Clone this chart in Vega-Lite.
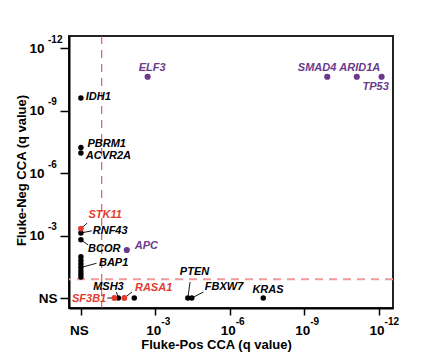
{
  "$schema": "https://vega.github.io/schema/vega-lite/v6.json",
  "width": 324,
  "height": 272,
  "autosize": {"type": "none"},
  "padding": {"left": 69, "top": 36, "right": 35, "bottom": 50},
  "config": {
    "view": {"stroke": "#222", "strokeWidth": 2},
    "font": "Liberation Sans",
    "axis": {
      "grid": false,
      "domainColor": "#000",
      "domainWidth": 2,
      "tickColor": "#000",
      "tickWidth": 1.5,
      "labelFont": "Liberation Sans",
      "labelFontWeight": "bold",
      "labelFontSize": 13.5,
      "labelColor": "#000",
      "titleFont": "Liberation Sans",
      "titleFontWeight": "bold",
      "titleFontSize": 13,
      "titleColor": "#000",
      "labelFlush": false,
      "labelBound": false,
      "labelOverlap": false
    }
  },
  "datasets": {
    "genes": [
      {"gene": "IDH1", "label": "IDH1", "cat": "single", "x": 0, "y": 9.62, "lx": 0.70, "ly": 9.65},
      {"gene": "PBRM1", "label": "PBRM1", "cat": "single", "x": 0, "y": 7.24, "lx": 1.04, "ly": 7.42},
      {"gene": "ACVR2A", "label": "ACVR2A", "cat": "single", "x": 0, "y": 6.97, "lx": 1.11, "ly": 6.81},
      {"gene": "ELF3", "label": "ELF3", "cat": "both", "x": 2.69, "y": 10.64, "lx": 2.87, "ly": 11.04},
      {"gene": "SMAD4", "label": "SMAD4", "cat": "both", "x": 9.93, "y": 10.64, "lx": 9.52, "ly": 11.04},
      {"gene": "ARID1A", "label": "ARID1A", "cat": "both", "x": 11.12, "y": 10.64, "lx": 11.24, "ly": 11.04},
      {"gene": "TP53", "label": "TP53", "cat": "both", "x": 12.12, "y": 10.64, "lx": 11.88, "ly": 10.15},
      {"gene": "RNF43", "label": "RNF43", "cat": "single", "x": 0, "y": 3.13, "lx": 1.18, "ly": 3.23},
      {"gene": "BCOR", "label": "BCOR", "cat": "single", "x": 0, "y": 2.80, "lx": 0.94, "ly": 2.36},
      {"gene": "g1", "label": "", "cat": "single", "x": 0, "y": 1.98, "lx": null, "ly": null},
      {"gene": "g2", "label": "", "cat": "single", "x": 0, "y": 1.81, "lx": null, "ly": null},
      {"gene": "g3", "label": "", "cat": "single", "x": 0, "y": 1.64, "lx": null, "ly": null},
      {"gene": "BAP1", "label": "BAP1", "cat": "single", "x": 0, "y": 1.47, "lx": 1.32, "ly": 1.67},
      {"gene": "g4", "label": "", "cat": "single", "x": 0, "y": 1.30, "lx": null, "ly": null},
      {"gene": "g5", "label": "", "cat": "single", "x": 0, "y": 1.16, "lx": null, "ly": null},
      {"gene": "g6", "label": "", "cat": "single", "x": 0, "y": 1.01, "lx": null, "ly": null},
      {"gene": "STK11", "label": "STK11", "cat": "highlight", "x": 0, "y": 3.34, "lx": 0.98, "ly": 3.97},
      {"gene": "APC", "label": "APC", "cat": "both", "x": 1.85, "y": 2.31, "lx": 2.64, "ly": 2.51},
      {"gene": "MSH3", "label": "MSH3", "cat": "single", "x": 1.51, "y": 0, "lx": 1.11, "ly": 0.52},
      {"gene": "g7", "label": "", "cat": "single", "x": 2.15, "y": 0, "lx": null, "ly": null},
      {"gene": "SF3B1", "label": "SF3B1", "cat": "highlight", "x": 1.35, "y": 0, "lx": 0.33, "ly": -0.03},
      {"gene": "RASA1", "label": "RASA1", "cat": "highlight", "x": 1.75, "y": 0, "lx": 2.93, "ly": 0.50},
      {"gene": "PTEN", "label": "PTEN", "cat": "single", "x": 4.31, "y": 0, "lx": 4.58, "ly": 1.24},
      {"gene": "FBXW7", "label": "FBXW7", "cat": "single", "x": 4.47, "y": 0, "lx": 5.77, "ly": 0.54},
      {"gene": "KRAS", "label": "KRAS", "cat": "single", "x": 7.35, "y": 0, "lx": 7.54, "ly": 0.37}
    ],
    "leaders": [
      {"gene": "STK11", "x": 0, "y": 3.34, "ex": 0.25, "ey": 3.60},
      {"gene": "RNF43", "x": 0, "y": 3.13, "ex": 0.44, "ey": 3.23},
      {"gene": "BCOR", "x": 0, "y": 2.80, "ex": 0.29, "ey": 2.55},
      {"gene": "BAP1", "x": 0, "y": 1.47, "ex": 0.63, "ey": 1.67},
      {"gene": "SF3B1", "x": 1.35, "y": 0, "ex": 1.06, "ey": 0},
      {"gene": "MSH3", "x": 1.51, "y": 0, "ex": 1.43, "ey": 0.29},
      {"gene": "RASA1", "x": 1.75, "y": 0, "ex": 2.06, "ey": 0.29},
      {"gene": "PTEN", "x": 4.31, "y": 0, "ex": 4.40, "ey": 0.77},
      {"gene": "FBXW7", "x": 4.47, "y": 0, "ex": 4.94, "ey": 0.29}
    ],
    "thresholds": [
      {"axis": "pos", "q": 0.84},
      {"axis": "neg", "q": 0.90}
    ],
    "exponents": [
      {"tick": 3, "exp": "-3"},
      {"tick": 6, "exp": "-6"},
      {"tick": 9, "exp": "-9"},
      {"tick": 12, "exp": "-12"}
    ]
  },
  "layer": [
    {
      "data": {"name": "thresholds"},
      "transform": [{"filter": "datum.axis == 'pos'"}],
      "mark": {"type": "rule", "color": "#dd3b3b", "strokeWidth": 1, "strokeDash": [8, 6]},
      "encoding": {
        "x": {"field": "q", "type": "quantitative", "title": "Fluke-Pos CCA (q value)", "scale": {"domain": [-0.48, 12.58], "nice": false, "zero": false}}
      }
    },
    {
      "data": {"name": "thresholds"},
      "transform": [{"filter": "datum.axis == 'neg'"}],
      "mark": {"type": "rule", "color": "#ef9a9a", "strokeWidth": 2, "strokeDash": [8, 6]},
      "encoding": {
        "y": {"field": "q", "type": "quantitative", "title": "Fluke-Neg CCA (q value)", "scale": {"domain": [-0.48, 12.6], "nice": false, "zero": false}}
      }
    },
    {
      "data": {"name": "leaders"},
      "mark": {"type": "rule", "color": "#000", "strokeWidth": 0.9},
      "encoding": {
        "x": {"field": "x", "type": "quantitative", "title": "Fluke-Pos CCA (q value)", "scale": {"domain": [-0.48, 12.58], "nice": false, "zero": false}},
        "y": {"field": "y", "type": "quantitative", "title": "Fluke-Neg CCA (q value)", "scale": {"domain": [-0.48, 12.6], "nice": false, "zero": false}},
        "x2": {"field": "ex"},
        "y2": {"field": "ey"}
      }
    },
    {
      "data": {"name": "genes"},
      "mark": {"type": "circle", "opacity": 1},
      "encoding": {
        "x": {
          "field": "x", "type": "quantitative",
          "title": "Fluke-Pos CCA (q value)",
          "scale": {"domain": [-0.48, 12.58], "nice": false, "zero": false},
          "axis": {
            "values": [0, 3, 6, 9, 12],
            "labelExpr": "datum.value == 0 ? 'NS' : '10'",
            "tickSize": 7,
            "labelPadding": 8,
            "labelOffset": -2,
            "titleX": 147,
            "titleY": 40.5,
            "titleBaseline": "alphabetic"
          }
        },
        "y": {
          "field": "y", "type": "quantitative",
          "title": "Fluke-Neg CCA (q value)",
          "scale": {"domain": [-0.48, 12.6], "nice": false, "zero": false},
          "axis": {
            "values": [0, 3, 6, 9, 12],
            "labelExpr": "datum.value == 0 ? 'NS' : '10'",
            "tickSize": 9,
            "labelPadding": {"condition": {"test": "datum.value == 0", "value": 3}, "value": 16},
            "titleX": -44,
            "titleY": 134,
            "titleBaseline": "alphabetic"
          }
        },
        "color": {
          "field": "cat", "type": "nominal", "legend": null,
          "scale": {"domain": ["single", "highlight", "both"], "range": ["#000000", "#e53a2f", "#6c3a8c"]}
        },
        "size": {
          "field": "cat", "type": "nominal", "legend": null,
          "scale": {"domain": ["single", "highlight", "both"], "range": [30, 38, 18]}
        }
      }
    },
    {
      "data": {"name": "genes"},
      "transform": [{"filter": "datum.label != ''"}],
      "mark": {"type": "text", "font": "Liberation Sans", "fontStyle": "italic", "fontWeight": "bold", "fontSize": 11, "align": "center", "baseline": "middle"},
      "encoding": {
        "x": {"field": "lx", "type": "quantitative", "title": "Fluke-Pos CCA (q value)", "scale": {"domain": [-0.48, 12.58], "nice": false, "zero": false}},
        "y": {"field": "ly", "type": "quantitative", "title": "Fluke-Neg CCA (q value)", "scale": {"domain": [-0.48, 12.6], "nice": false, "zero": false}},
        "text": {"field": "label"},
        "color": {"field": "cat", "type": "nominal", "legend": null, "scale": {"domain": ["single", "highlight", "both"], "range": ["#000000", "#e53a2f", "#6c3a8c"]}}
      }
    },
    {
      "data": {"name": "exponents"},
      "mark": {"type": "text", "font": "Liberation Sans", "fontWeight": "bold", "fontSize": 10, "align": "left", "baseline": "alphabetic", "dx": 6, "dy": 16.5, "color": "#000"},
      "encoding": {
        "x": {"field": "tick", "type": "quantitative", "title": "Fluke-Pos CCA (q value)", "scale": {"domain": [-0.48, 12.58], "nice": false, "zero": false}},
        "y": {"datum": -0.48, "type": "quantitative", "scale": {"domain": [-0.48, 12.6], "nice": false, "zero": false}},
        "text": {"field": "exp"}
      }
    },
    {
      "data": {"name": "exponents"},
      "mark": {"type": "text", "font": "Liberation Sans", "fontWeight": "bold", "fontSize": 10, "align": "left", "baseline": "alphabetic", "dx": -21, "dy": -5.5, "color": "#000"},
      "encoding": {
        "x": {"datum": -0.48, "type": "quantitative", "scale": {"domain": [-0.48, 12.58], "nice": false, "zero": false}},
        "y": {"field": "tick", "type": "quantitative", "title": "Fluke-Neg CCA (q value)", "scale": {"domain": [-0.48, 12.6], "nice": false, "zero": false}},
        "text": {"field": "exp"}
      }
    }
  ]
}
